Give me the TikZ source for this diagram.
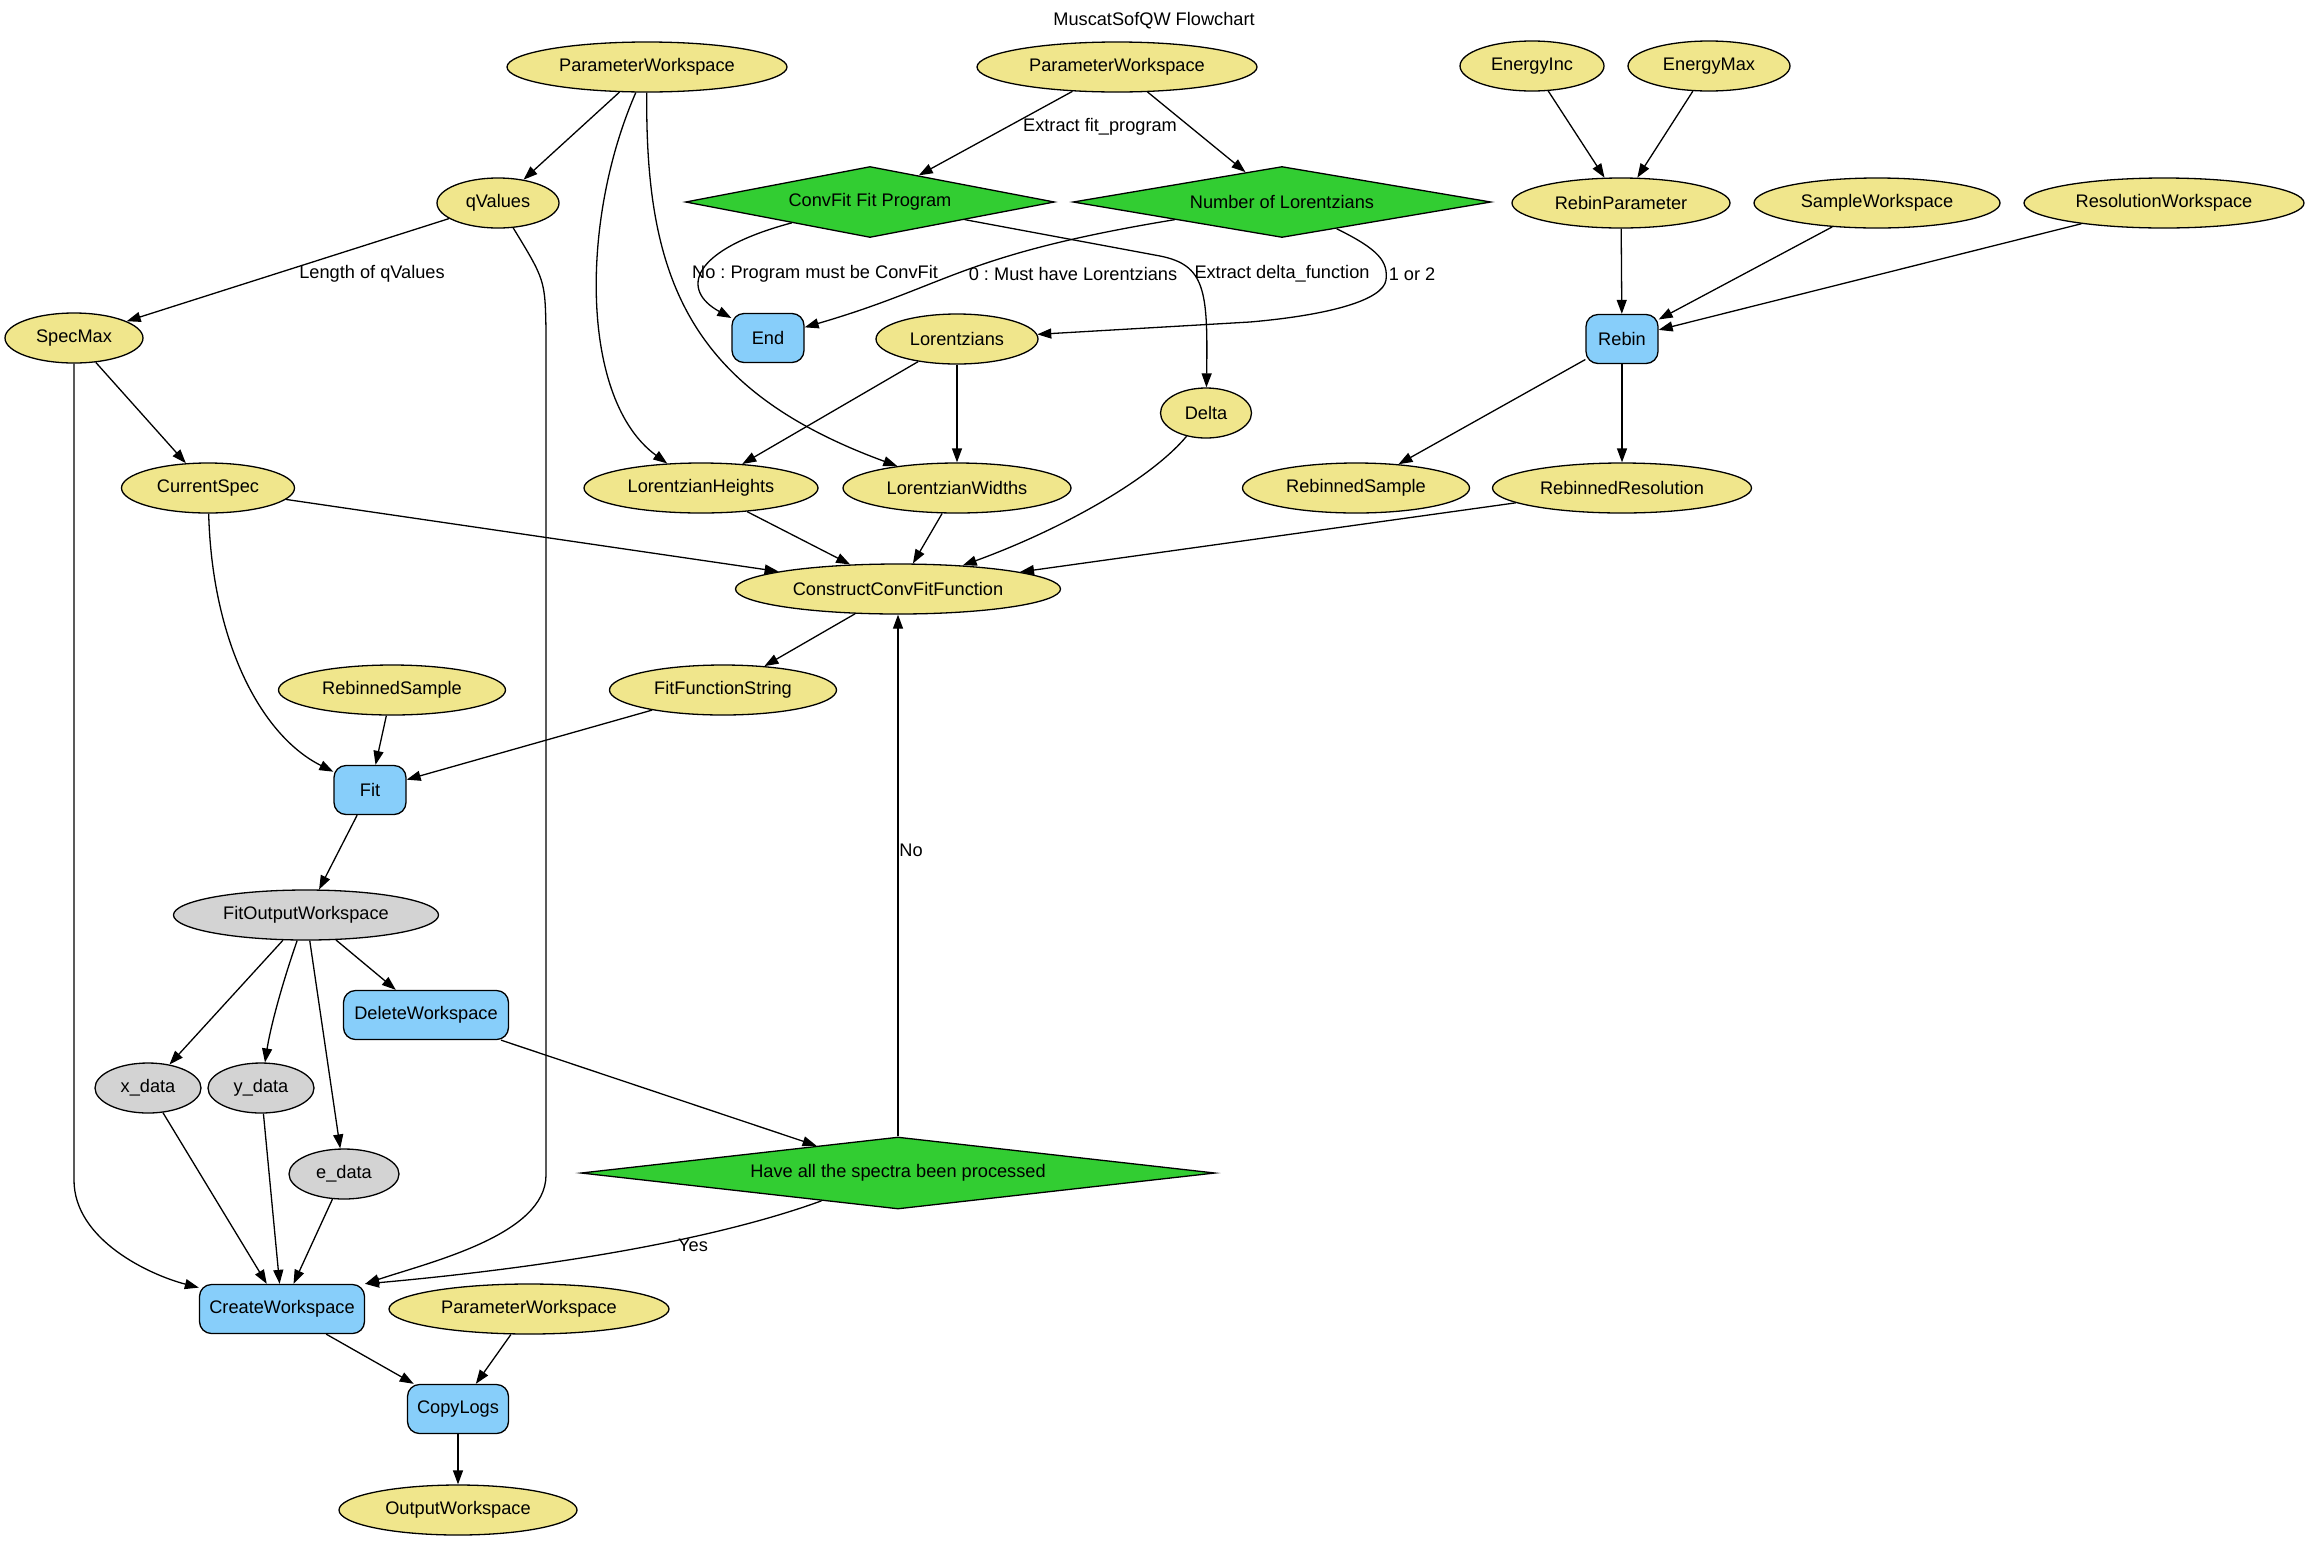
\documentclass[tikz,border=0pt]{standalone}
\usepackage{fontspec}
\setmainfont{Liberation Sans}
\frenchspacing
\usetikzlibrary{shapes.geometric,arrows.meta}
\definecolor{khaki}{HTML}{F0E68C}
\definecolor{lgray}{HTML}{D3D3D3}
\definecolor{skyb}{HTML}{87CEFA}
\definecolor{limeg}{HTML}{32CD32}
\begin{document}
\begin{tikzpicture}[x=1pt,y=-1pt,
  every node/.style={font=\fontsize{18.2}{22}\selectfont},
  dat/.style={ellipse, draw, line width=1.3pt, fill=khaki, inner sep=0pt, minimum height=50pt},
  gdat/.style={dat, fill=lgray},
  alg/.style={rectangle, rounded corners=12pt, draw, line width=1.3pt, fill=skyb, inner sep=0pt, minimum height=49pt},
  dec/.style={diamond, draw, line width=1.3pt, fill=limeg, inner sep=0pt},
  arr/.style={line width=1.3pt, -{Triangle[length=14pt,width=10pt]}},
  lbl/.style={inner sep=0pt}
]
\useasboundingbox (0,0) rectangle (2309,1540);

\node[lbl] (title) at (1154,21) {MuscatSofQW Flowchart};
\node[dat, minimum width=280pt] (pw1) at (647,67) {ParameterWorkspace};
\node[dat, minimum width=280pt] (pw2) at (1117,67) {ParameterWorkspace};
\node[dat, minimum width=144pt] (einc) at (1532,66) {EnergyInc};
\node[dat, minimum width=162pt] (emax) at (1709,66) {EnergyMax};
\node[dat, minimum width=122pt] (qv) at (498,203) {qValues};
\node[dec, minimum width=369pt, minimum height=71pt, aspect=5.2] (cf) at (870,202) {ConvFit Fit Program};
\node[dec, minimum width=418pt, minimum height=71pt, aspect=5.9] (nl) at (1282,202) {Number of Lorentzians};
\node[dat, minimum width=218pt] (rp) at (1621,203) {RebinParameter};
\node[dat, minimum width=246pt] (sw) at (1877,203) {SampleWorkspace};
\node[dat, minimum width=280pt] (rw) at (2164,203) {ResolutionWorkspace};
\node[dat, minimum width=138pt] (sm) at (74,338) {SpecMax};
\node[alg, minimum width=72pt] (endn) at (768,338) {End};
\node[dat, minimum width=162pt] (lor) at (957,339) {Lorentzians};
\node[alg, minimum width=72pt] (rebin) at (1622,339) {Rebin};
\node[dat, minimum width=91pt] (delta) at (1206,413) {Delta};
\node[dat, minimum width=173pt] (cs) at (208,488) {CurrentSpec};
\node[dat, minimum width=234pt] (lh) at (701,488) {LorentzianHeights};
\node[dat, minimum width=228pt] (lw) at (957,488) {LorentzianWidths};
\node[dat, minimum width=227pt] (rs) at (1356,488) {RebinnedSample};
\node[dat, minimum width=259pt] (rr) at (1622,488) {RebinnedResolution};
\node[dat, minimum width=325pt] (ccf) at (898,589) {ConstructConvFitFunction};
\node[dat, minimum width=227pt] (rs2) at (392,690) {RebinnedSample};
\node[dat, minimum width=227pt] (ffs) at (723,690) {FitFunctionString};
\node[alg, minimum width=72pt] (fit) at (370,790) {Fit};
\node[gdat, minimum width=265pt] (fow) at (306,915) {FitOutputWorkspace};
\node[alg, minimum width=165pt] (dw) at (426,1015) {DeleteWorkspace};
\node[gdat, minimum width=106pt] (xd) at (148,1088) {x\_data};
\node[gdat, minimum width=106pt] (yd) at (261,1088) {y\_data};
\node[gdat, minimum width=110pt] (ed) at (344,1174) {e\_data};
\node[dec, minimum width=634pt, minimum height=72pt, aspect=8.8] (ha) at (898,1173) {Have all the spectra been processed};
\node[alg, minimum width=165pt] (cw) at (282,1309) {CreateWorkspace};
\node[dat, minimum width=280pt] (pw3) at (529,1309) {ParameterWorkspace};
\node[alg, minimum width=101pt] (cl) at (458,1409) {CopyLogs};
\node[dat, minimum width=238pt] (ow) at (458,1510) {OutputWorkspace};

\draw[arr] (pw1) -- (qv);
\draw[arr] (pw1) .. controls (580,220) and (580,400) .. (lh);
\draw[arr] (pw1) .. controls (645,280) and (690,390) .. (lw);
\draw[arr] (pw2) -- (cf);
\draw[arr] (pw2) -- (nl);
\draw[arr] (einc) -- (rp);
\draw[arr] (emax) -- (rp);
\draw[arr] (qv) -- (sm);
\draw[arr] (qv) .. controls (545,280) .. (546,330) -- (546,1175) .. controls (546,1235) and (430,1262) .. (cw.north east);
\draw[arr] (cf) .. controls (690,250) and (680,290) .. (endn);
\draw[arr] (nl) .. controls (960,255) and (950,285) .. (endn);
\draw[arr] (cf) -- (1160,256) .. controls (1205,265) and (1208,290) .. (delta);
\draw[arr] (nl) .. controls (1380,250) and (1388,262) .. (1386,280) .. controls (1383,300) and (1330,315) .. (1250,322) -- (lor);
\draw[arr] (rp) -- (rebin);
\draw[arr] (sw) -- (rebin);
\draw[arr] (rw) -- (rebin);
\draw[arr] (sm) -- (cs);
\draw[arr] (sm) -- (74,1180) .. controls (74,1240) and (150,1275) .. (cw);
\draw[arr] (lor) -- (lh);
\draw[arr] (lor) -- (lw);
\draw[arr] (rebin) -- (rs);
\draw[arr] (rebin) -- (rr);
\draw[arr] (cs) -- (ccf);
\draw[arr] (cs) .. controls (212,640) and (260,735) .. (fit);
\draw[arr] (lh) -- (ccf);
\draw[arr] (lw) -- (ccf);
\draw[arr] (delta) .. controls (1150,480) and (1060,530) .. (ccf);
\draw[arr] (rr) -- (ccf);
\draw[arr] (ccf) -- (ffs);
\draw[arr] (rs2) -- (fit);
\draw[arr] (ffs) -- (fit);
\draw[arr] (fit) -- (fow);
\draw[arr] (fow) -- (xd);
\draw[arr] (fow) .. controls (280,990) and (270,1030) .. (yd);
\draw[arr] (fow) -- (ed);
\draw[arr] (fow) -- (dw);
\draw[arr] (dw) -- (ha);
\draw[arr] (ha) -- (ccf);
\draw[arr] (ha) .. controls (700,1245) and (520,1270) .. (cw.north east);
\draw[arr] (xd) -- (cw);
\draw[arr] (yd) -- (cw);
\draw[arr] (ed) -- (cw);
\draw[arr] (cw) -- (cl);
\draw[arr] (pw3) -- (cl);
\draw[arr] (cl) -- (ow);

\node[lbl] (l1) at (1100,127) {Extract fit\_program};
\node[lbl] (l2) at (372,274) {Length of qValues};
\node[lbl] (l3) at (815,274) {No : Program must be ConvFit};
\node[lbl] (l4) at (1073,274) {0 : Must have Lorentzians};
\node[lbl] (l5) at (1282,274) {Extract delta\_function};
\node[lbl] (l6) at (1412,274) {1 or 2};
\node[lbl] (l7) at (911,850) {No};
\node[lbl] (l8) at (693,1245) {Yes};
\end{tikzpicture}
\end{document}
